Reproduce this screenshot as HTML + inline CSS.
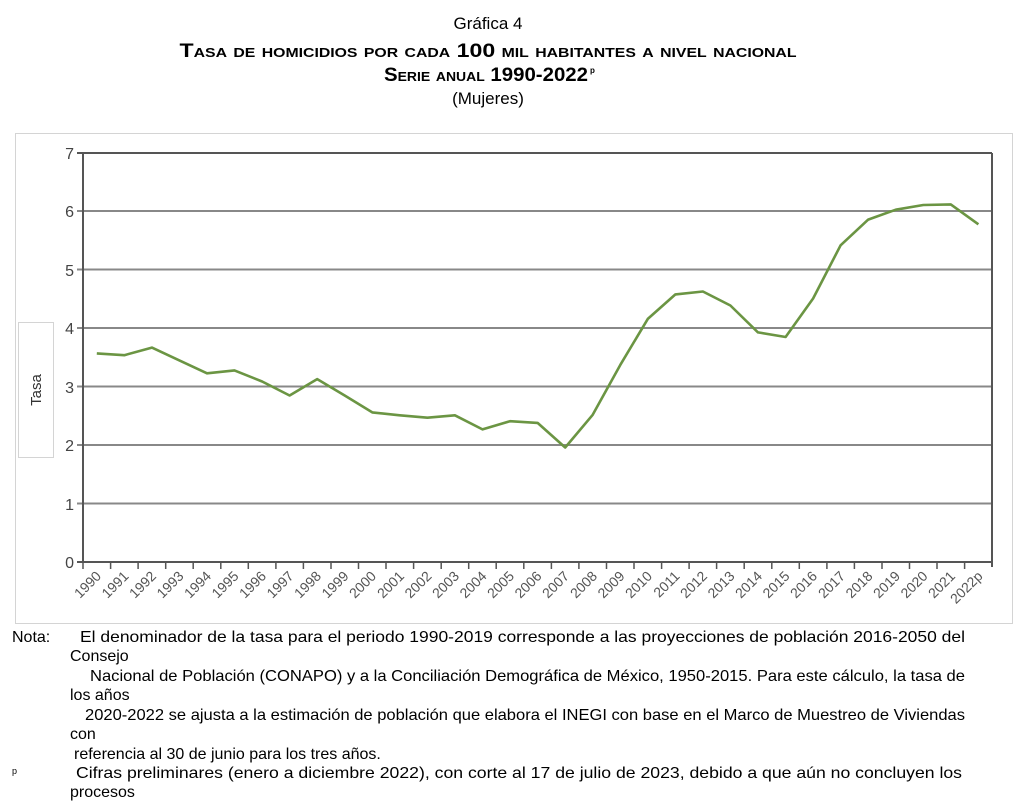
<!DOCTYPE html>
<html><head><meta charset="utf-8"><style>
body{margin:0;background:#fff;}
svg{display:block;font-family:"Liberation Sans",Arial,sans-serif;}
</style></head><body>
<svg width="1024" height="803" viewBox="0 0 1024 803" xmlns="http://www.w3.org/2000/svg">
<text x="488" y="29" font-size="17" text-anchor="middle">Gráfica 4</text>
<text x="488" y="57" font-size="19" font-weight="bold" text-anchor="middle" style="font-variant:small-caps" textLength="617" lengthAdjust="spacingAndGlyphs">Tasa de homicidios por cada 100 mil habitantes a nivel nacional</text>
<text x="486" y="81" font-size="19" font-weight="bold" text-anchor="middle" style="font-variant:small-caps" textLength="204" lengthAdjust="spacingAndGlyphs">Serie anual 1990-2022</text>
<text x="590" y="73" font-size="8" font-weight="bold">p</text>
<text x="488" y="104" font-size="17" text-anchor="middle">(Mujeres)</text>
<rect x="15.5" y="133.5" width="997" height="490" fill="none" stroke="#d4d4d4"/>
<rect x="18.5" y="322.5" width="35" height="135" fill="none" stroke="#d4d4d4"/>
<text transform="translate(41,390) rotate(-90)" font-size="15" text-anchor="middle" fill="#333">Tasa</text>
<g stroke="#888" stroke-width="2">
<line x1="77" y1="153" x2="992" y2="153"/><line x1="77" y1="211" x2="992" y2="211"/>
<line x1="77" y1="269.5" x2="992" y2="269.5"/><line x1="77" y1="328" x2="992" y2="328"/>
<line x1="77" y1="386.5" x2="992" y2="386.5"/><line x1="77" y1="445" x2="992" y2="445"/>
<line x1="77" y1="503.5" x2="992" y2="503.5"/>
</g>
<g stroke="#555" stroke-width="2"><line x1="83" y1="153" x2="83" y2="562"/><line x1="992" y1="153" x2="992" y2="567"/><line x1="77" y1="562" x2="992" y2="562"/><line x1="77" y1="153" x2="992" y2="153"/></g>
<g stroke="#555" stroke-width="1.5">
<path d="M83,562v7M110.6,562v7M138.1,562v7M165.7,562v7M193.2,562v7M220.8,562v7M248.3,562v7M275.9,562v7M303.4,562v7M331,562v7M358.5,562v7M386,562v7M413.6,562v7M441.2,562v7M468.7,562v7M496.2,562v7M523.8,562v7M551.4,562v7M578.9,562v7M606.5,562v7M634,562v7M661.6,562v7M689.1,562v7M716.6,562v7M744.2,562v7M771.8,562v7M799.3,562v7M826.9,562v7M854.4,562v7M882,562v7M909.5,562v7M937,562v7M964.6,562v7"/>
</g>
<g font-size="16" fill="#444" text-anchor="end">
<text x="74" y="159">7</text><text x="74" y="217">6</text><text x="74" y="276">5</text><text x="74" y="334">4</text><text x="74" y="393">3</text><text x="74" y="451">2</text><text x="74" y="510">1</text><text x="74" y="568">0</text>
</g>
<g font-size="14" fill="#555" text-anchor="end">
<text transform="translate(102,577) rotate(-45)">1990</text>
<text transform="translate(129.5,577) rotate(-45)">1991</text>
<text transform="translate(157,577) rotate(-45)">1992</text>
<text transform="translate(184.5,577) rotate(-45)">1993</text>
<text transform="translate(212,577) rotate(-45)">1994</text>
<text transform="translate(239.5,577) rotate(-45)">1995</text>
<text transform="translate(267,577) rotate(-45)">1996</text>
<text transform="translate(294.5,577) rotate(-45)">1997</text>
<text transform="translate(322,577) rotate(-45)">1998</text>
<text transform="translate(349.5,577) rotate(-45)">1999</text>
<text transform="translate(377,577) rotate(-45)">2000</text>
<text transform="translate(405,577) rotate(-45)">2001</text>
<text transform="translate(432.5,577) rotate(-45)">2002</text>
<text transform="translate(460,577) rotate(-45)">2003</text>
<text transform="translate(487.5,577) rotate(-45)">2004</text>
<text transform="translate(515,577) rotate(-45)">2005</text>
<text transform="translate(542.5,577) rotate(-45)">2006</text>
<text transform="translate(570,577) rotate(-45)">2007</text>
<text transform="translate(598,577) rotate(-45)">2008</text>
<text transform="translate(625.5,577) rotate(-45)">2009</text>
<text transform="translate(653,577) rotate(-45)">2010</text>
<text transform="translate(680.5,577) rotate(-45)">2011</text>
<text transform="translate(708,577) rotate(-45)">2012</text>
<text transform="translate(735.5,577) rotate(-45)">2013</text>
<text transform="translate(763,577) rotate(-45)">2014</text>
<text transform="translate(790.5,577) rotate(-45)">2015</text>
<text transform="translate(818,577) rotate(-45)">2016</text>
<text transform="translate(846,577) rotate(-45)">2017</text>
<text transform="translate(873.5,577) rotate(-45)">2018</text>
<text transform="translate(901,577) rotate(-45)">2019</text>
<text transform="translate(928.5,577) rotate(-45)">2020</text>
<text transform="translate(956,577) rotate(-45)">2021</text>
<text transform="translate(983.5,577) rotate(-45)">2022p</text>
</g>
<polyline fill="none" stroke="#6b9543" stroke-width="2.6" stroke-linejoin="round" points="96.8,353.4 124.3,355.2 151.9,347.6 179.4,360.4 207,373.3 234.5,370.4 262.1,381.5 289.6,395.5 317.2,379.1 344.7,395.5 372.3,412.4 399.8,415.3 427.4,417.7 454.9,415.3 482.5,429.4 510,421.2 537.6,422.9 565.2,447.5 592.7,414.8 620.2,365.1 647.8,318.9 675.4,294.4 702.9,291.5 730.4,305.5 758,332.4 785.6,337 813.1,298.5 840.6,245.3 868.2,219.6 895.8,209.7 923.3,205 950.8,204.4 978.4,224.3"/>
<g font-size="16" fill="#000">
<text x="12" y="642">Nota:</text>
<text x="80" y="642" textLength="885" lengthAdjust="spacingAndGlyphs">El denominador de la tasa para el periodo 1990-2019 corresponde a las proyecciones de población 2016-2050 del</text>
<text x="70" y="661">Consejo</text>
<text x="90" y="681" textLength="875" lengthAdjust="spacingAndGlyphs">Nacional de Población (CONAPO) y a la Conciliación Demográfica de México, 1950-2015. Para este cálculo, la tasa de</text>
<text x="70" y="700">los años</text>
<text x="85" y="720" textLength="880" lengthAdjust="spacingAndGlyphs">2020-2022 se ajusta a la estimación de población que elabora el INEGI con base en el Marco de Muestreo de Viviendas</text>
<text x="70" y="739">con</text>
<text x="74" y="759">referencia al 30 de junio para los tres años.</text>
<text x="12" y="774" font-size="9">p</text>
<text x="76" y="778" textLength="886" lengthAdjust="spacingAndGlyphs">Cifras preliminares (enero a diciembre 2022), con corte al 17 de julio de 2023, debido a que aún no concluyen los</text>
<text x="70" y="797">procesos</text>
</g>
</svg>
</body></html>
